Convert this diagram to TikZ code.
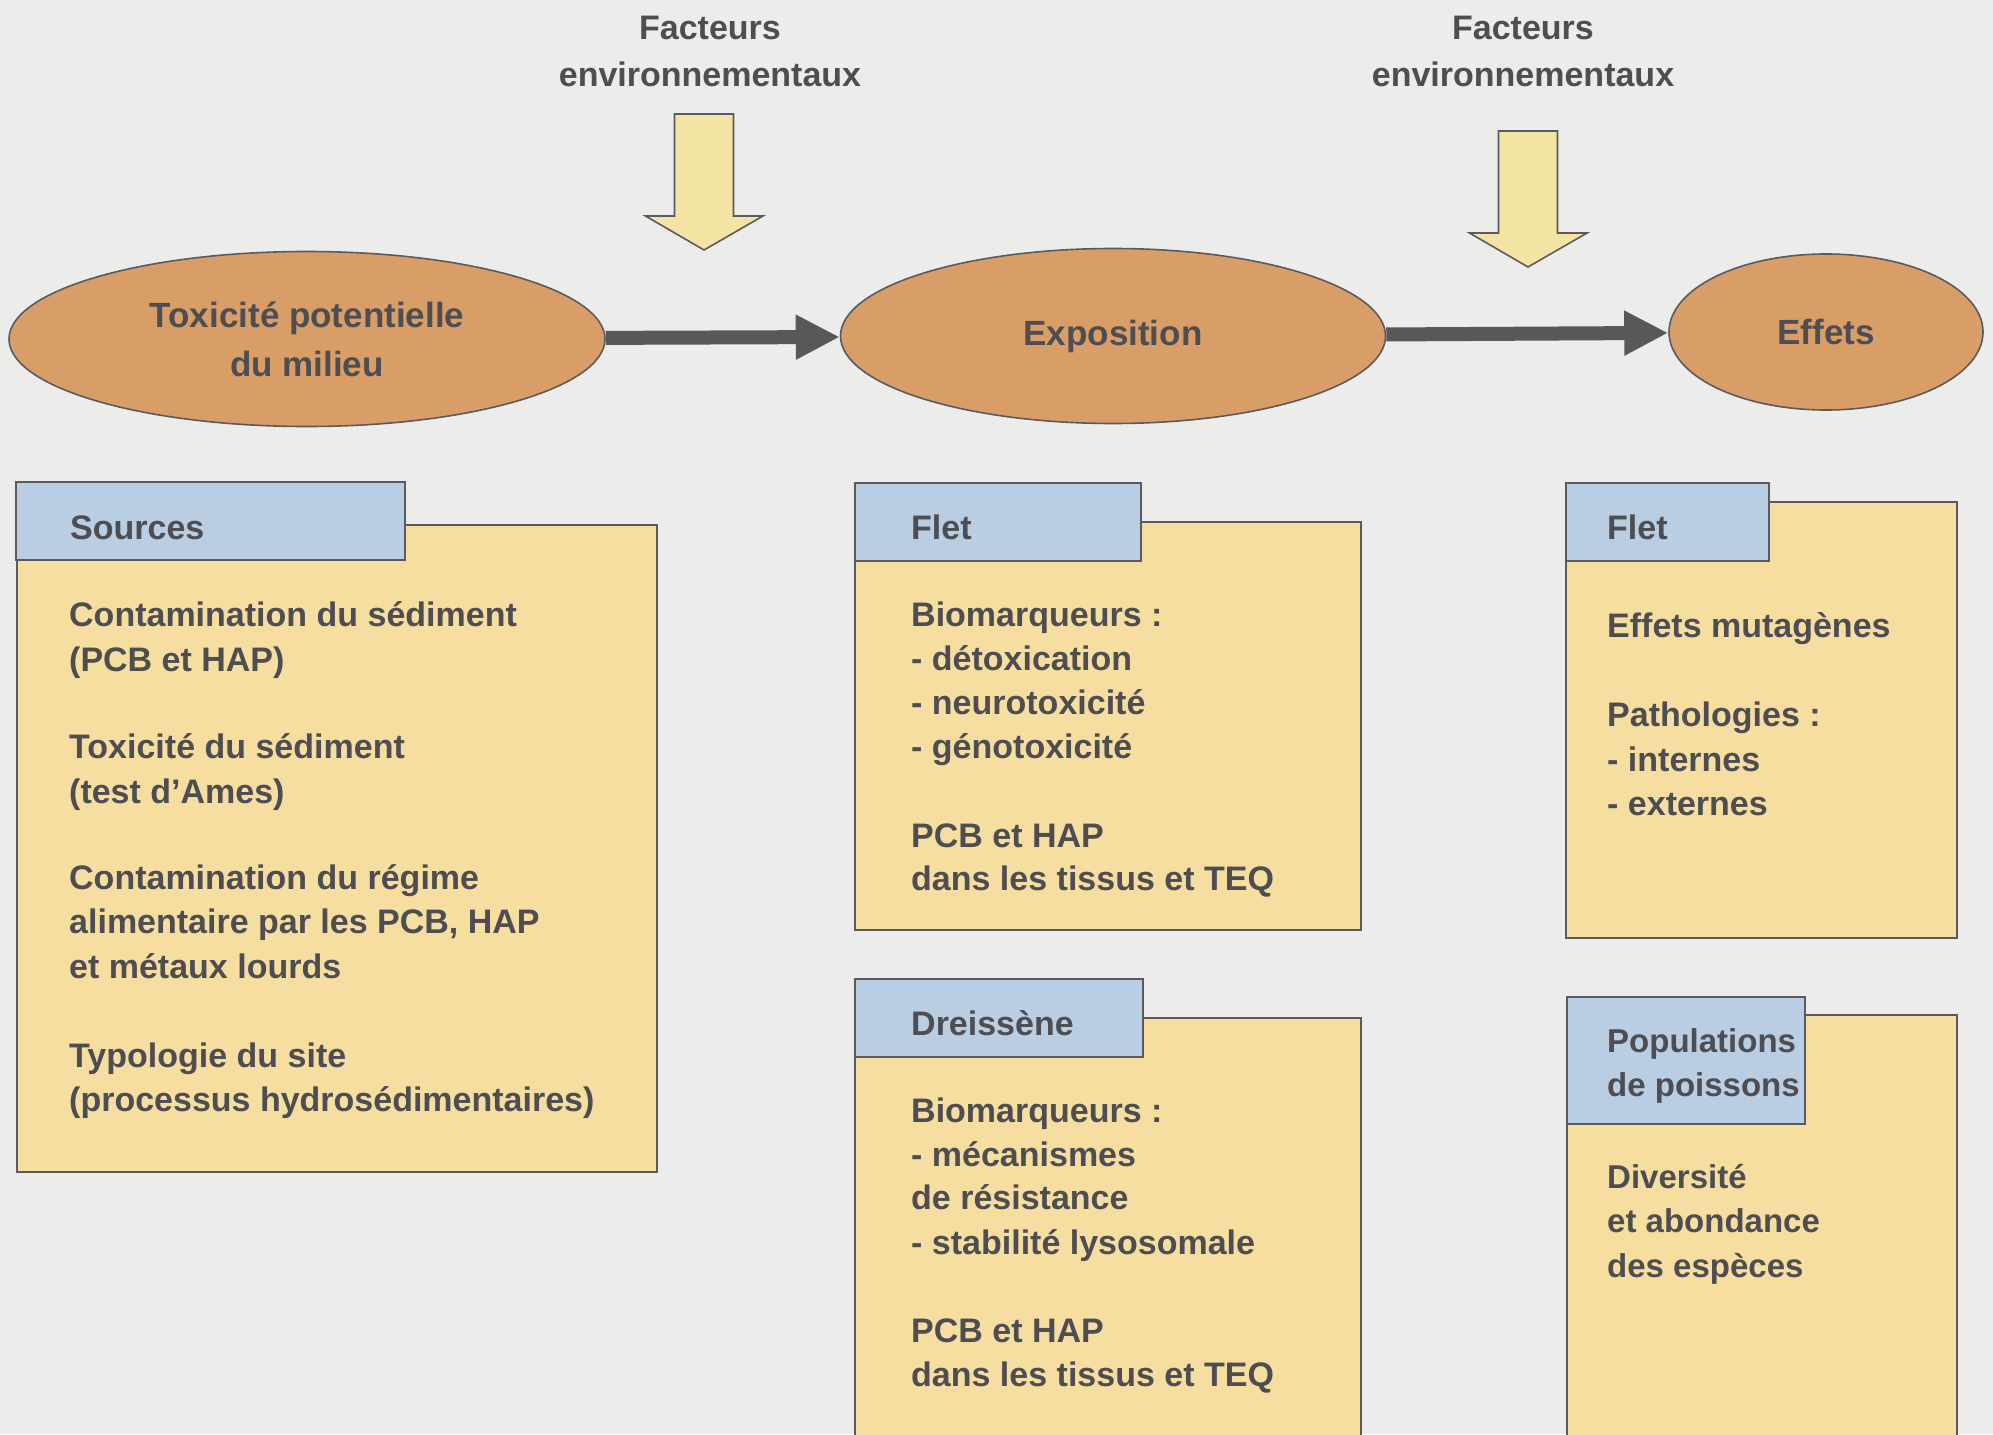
\documentclass[tikz,border=0pt]{standalone}
\usepackage{fontspec}
\setmainfont{Liberation Sans}
\usetikzlibrary{shapes.geometric,arrows.meta}
\definecolor{bg}{RGB}{236,236,234}
\definecolor{boxyellow}{RGB}{245,222,160}
\definecolor{hdrblue}{RGB}{185,205,227}
\definecolor{ellfill}{RGB}{217,157,103}
\definecolor{ink}{RGB}{77,77,82}
\definecolor{edge}{RGB}{90,90,96}
\definecolor{arrowyellow}{RGB}{243,228,163}
\definecolor{darkarrow}{RGB}{88,88,90}
\tikzset{
  panel/.style={draw=edge, line width=2pt, fill=boxyellow, anchor=north west, inner sep=0pt, outer sep=0pt},
  header/.style={draw=edge, line width=2pt, fill=hdrblue, anchor=north west, inner sep=0pt, outer sep=0pt},
  oval/.style={ellipse, draw=edge, line width=1.6pt, fill=ellfill, inner sep=0pt, text=ink,
    font=\fontsize{35}{49}\selectfont\bfseries, align=center},
  txt/.style={anchor=base west, inner sep=0pt, text=ink, font=\fontsize{34}{44}\selectfont\bfseries},
  ptxt/.style={txt, font=\fontsize{33}{44}\selectfont\bfseries},
  factext/.style={inner sep=0pt, text=ink, align=center, font=\fontsize{34}{47}\selectfont\bfseries},
  darrow/.style={darkarrow, line width=14pt, -{Triangle[length=44pt, width=42pt]}},
  yarrow/.style={draw=edge, line width=1.6pt, fill=arrowyellow, line join=miter}
}
\begin{document}
\begin{tikzpicture}[x=1pt, y=-1pt]
\useasboundingbox (0,0) rectangle (1993,1434);
\fill[bg] (0,0) rectangle (1993,1434);
\clip (0,0) rectangle (1993,1434);

% panels
\node[panel, minimum width=640pt, minimum height=647pt] (srcbox) at (17,525) {};
\node[header, minimum width=389pt, minimum height=78pt] (srchdr) at (16,482) {};
\node[panel, minimum width=506pt, minimum height=408pt] (fletbox) at (855,522) {};
\node[header, minimum width=286pt, minimum height=78pt] (flethdr) at (855,483) {};
\node[panel, minimum width=506pt, minimum height=440pt] (drbox) at (855,1018) {};
\node[header, minimum width=288pt, minimum height=78pt] (drhdr) at (855,979) {};
\node[panel, minimum width=391pt, minimum height=436pt] (efbox) at (1566,502) {};
\node[header, minimum width=203pt, minimum height=78pt] (efhdr) at (1566,483) {};
\node[panel, minimum width=390pt, minimum height=440pt] (popbox) at (1567,1015) {};
\node[header, minimum width=238pt, minimum height=127pt] (pophdr) at (1567,997) {};

% Sources texts
\node[txt] (s0) at (70,539) {Sources};
\node[txt] (s1) at (69,626) {Contamination du sédiment};
\node[txt] (s2) at (69,671) {(PCB et HAP)};
\node[txt] (s3) at (69,758) {Toxicité du sédiment};
\node[txt] (s4) at (69,803) {(test d’Ames)};
\node[txt] (s5) at (69,889) {Contamination du régime};
\node[txt] (s6) at (69,933) {alimentaire par les PCB, HAP};
\node[txt] (s7) at (69,978) {et métaux lourds};
\node[txt] (s8) at (69,1067) {Typologie du site};
\node[txt] (s9) at (69,1111) {(processus hydrosédimentaires)};

% Flet (middle)
\node[txt] (f0) at (911,539) {Flet};
\node[txt] (f1) at (911,626) {Biomarqueurs :};
\node[txt] (f2) at (911,670) {- détoxication};
\node[txt] (f3) at (911,714) {- neurotoxicité};
\node[txt] (f4) at (911,758) {- génotoxicité};
\node[txt] (f5) at (911,847) {PCB et HAP};
\node[txt] (f6) at (911,890) {dans les tissus et TEQ};

% Dreissene
\node[txt] (d0) at (911,1035) {Dreissène};
\node[txt] (d1) at (911,1122) {Biomarqueurs :};
\node[txt] (d2) at (911,1166) {- mécanismes};
\node[txt] (d3) at (911,1209) {de résistance};
\node[txt] (d4) at (911,1254) {- stabilité lysosomale};
\node[txt] (d5) at (911,1342) {PCB et HAP};
\node[txt] (d6) at (911,1386) {dans les tissus et TEQ};

% Flet (right)
\node[txt] (e0) at (1607,539) {Flet};
\node[txt] (e1t) at (1607,637) {Effets mutagènes};
\node[txt] (e2t) at (1607,726) {Pathologies :};
\node[txt] (e3t) at (1607,771) {- internes};
\node[txt] (e4t) at (1607,815) {- externes};

% Populations
\node[ptxt] (p0) at (1607,1052) {Populations};
\node[ptxt] (p1) at (1607,1096) {de poissons};
\node[ptxt] (p2) at (1607,1188) {Diversité};
\node[ptxt] (p3) at (1607,1232) {et abondance};
\node[ptxt] (p4) at (1607,1277) {des espèces};

% ellipses
\node[oval, minimum width=596pt, minimum height=175pt] (tox) at (307,339) {Toxicité potentielle\\du milieu};
\node[oval, minimum width=545pt, minimum height=175pt] (expo) at (1113,336) {Exposition};
\node[oval, minimum width=314pt, minimum height=156pt] (eff) at (1826,332) {Effets};

% dark arrows
\draw[darrow] (tox) -- (expo);
\draw[darrow] (expo) -- (eff);

% environmental factors
\node[factext] (fac1) at (710,51) {Facteurs\\environnementaux};
\node[factext] (fac2) at (1523,51) {Facteurs\\environnementaux};
\coordinate (tip1) at (704,250);
\coordinate (tip2) at (1528,267);
\draw[yarrow] (tip1) -- ++(-58.5,-34) -- ++(29,0) -- ++(0,-102) -- ++(59,0) -- ++(0,102) -- ++(29.5,0) -- cycle;
\draw[yarrow] (tip2) -- ++(-58.5,-34) -- ++(29,0) -- ++(0,-102) -- ++(59,0) -- ++(0,102) -- ++(29.5,0) -- cycle;
\end{tikzpicture}
\end{document}
